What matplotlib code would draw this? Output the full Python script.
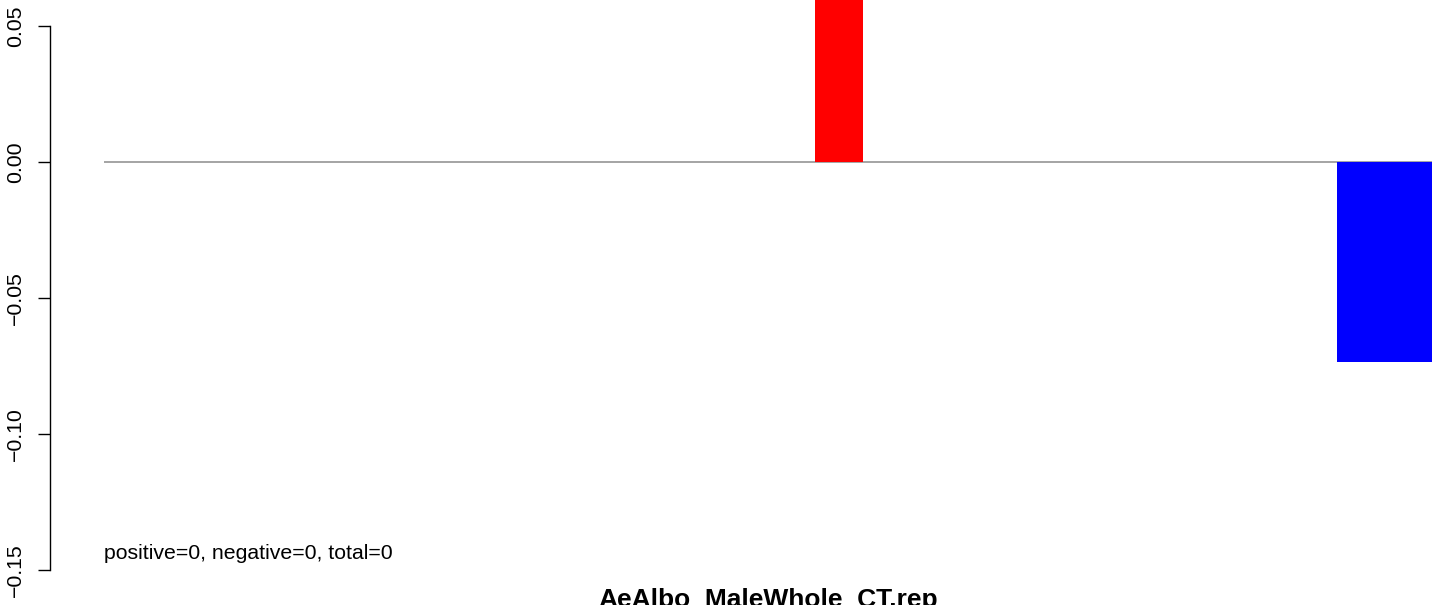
import matplotlib.pyplot as plt
import numpy as np

plt.rcParams['font.family'] = ['Liberation Sans', 'DejaVu Sans']

# bar values (most are zero); red bar goes off the top of the figure
values = [0.0] * 28
values[15] = 0.1
values[26] = -0.0734
values[27] = -0.0734
yticks = [-0.15, -0.10, -0.05, 0.00, 0.05]
ytick_labels = ['\u22120.15', '\u22120.10', '\u22120.05', '0.00', '0.05']
note = 'positive=0, negative=0, total=0'
xlabel = 'AeAlbo_MaleWhole_CT.rep'

W, H = 1455, 605
fig = plt.figure(figsize=(W / 100, H / 100), dpi=100)

left_px, right_px = 50, 1432
bar_left_px = 104
ax = fig.add_axes([left_px / W, (H - 570) / H, (right_px - left_px) / W, 570 / H])

n = len(values)
bar_w_px = (right_px - bar_left_px) / n
x = np.arange(n)
colors = ['red' if v > 0 else 'blue' for v in values]

ax.hlines(0, 0, n, color='#8c8c8c', lw=1.1, zorder=1)
ax.bar(x, values, width=1.0, align='edge', color=colors, zorder=2, linewidth=0)

ax.set_xlim(-(bar_left_px - left_px) / bar_w_px, n)
ax.set_ylim(-0.15, 162.5 / 136.5 * 0.05)

for s in ['top', 'right', 'bottom']:
    ax.spines[s].set_visible(False)
ax.spines['left'].set_bounds(-0.15, 0.05)
ax.spines['left'].set_linewidth(1.0)
ax.set_xticks([])
ax.set_yticks(yticks)
ax.set_yticklabels(ytick_labels, rotation=90, va='center', fontsize=15.3)
ax.tick_params(axis='y', length=9, width=1.0, pad=9)

ax.text(0, -0.1438, note, ha='left', va='center', fontsize=15.3)

# x label sits partly below the figure edge, as in the original
fig.text((bar_left_px + right_px) / 2 / W, 1 - 588 / H, xlabel,
         ha='center', va='top', fontsize=19, fontweight='bold')

fig.savefig('out.png', dpi=100)
